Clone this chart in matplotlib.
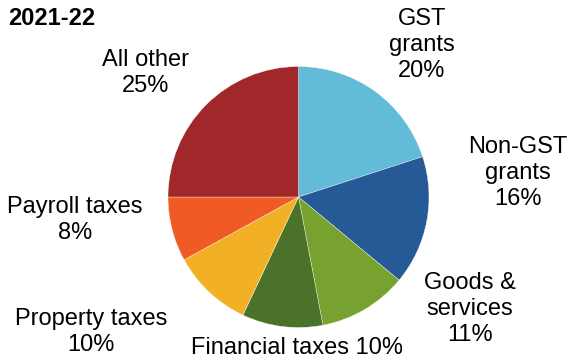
import matplotlib.pyplot as plt

plt.rcParams['font.family'] = ['Liberation Sans', 'DejaVu Sans']

# revenue shares, clockwise from 12 o'clock
names = ['GST\ngrants', 'Non-GST\ngrants', 'Goods &\nservices', 'Financial taxes',
         'Property taxes', 'Payroll taxes', 'All other']
shares = [20, 16, 11, 10, 10, 8, 25]
colours = ['#63BBDA', '#265A97', '#78A22F', '#4A7229', '#F2B026', '#F05A24', '#A0282A']
year = '2021-22'

W, H = 573, 364
fig = plt.figure(figsize=(W / 100, H / 100), dpi=100)
ax = fig.add_axes([0, 0, 1, 1])

# work in pixel units, y measured from the bottom
ax.pie(shares, colors=colours, startangle=90, counterclock=False,
       center=(298.5, H - 197), radius=130.5,
       wedgeprops=dict(edgecolor='white', linewidth=0.25))
ax.set_aspect('equal')
ax.set_xlim(0, W)
ax.set_ylim(0, H)
ax.axis('off')

# label spots (x, y from top) for each slice
spots = [(422, 45), (518, 173), (470, 309), (297, 348), (91, 332), (75, 220), (146, 73)]
for name, val, (x, y) in zip(names, shares, spots):
    sep = ' ' if name == 'Financial taxes' else '\n'
    ax.text(x, H - y, f'{name}{sep}{val}%', ha='center', va='center',
            fontsize=17, linespacing=1.22, color='black')

ax.text(8, H - 7, year, ha='left', va='top', fontsize=17, fontweight='bold')

fig.savefig('out.png', dpi=100)
